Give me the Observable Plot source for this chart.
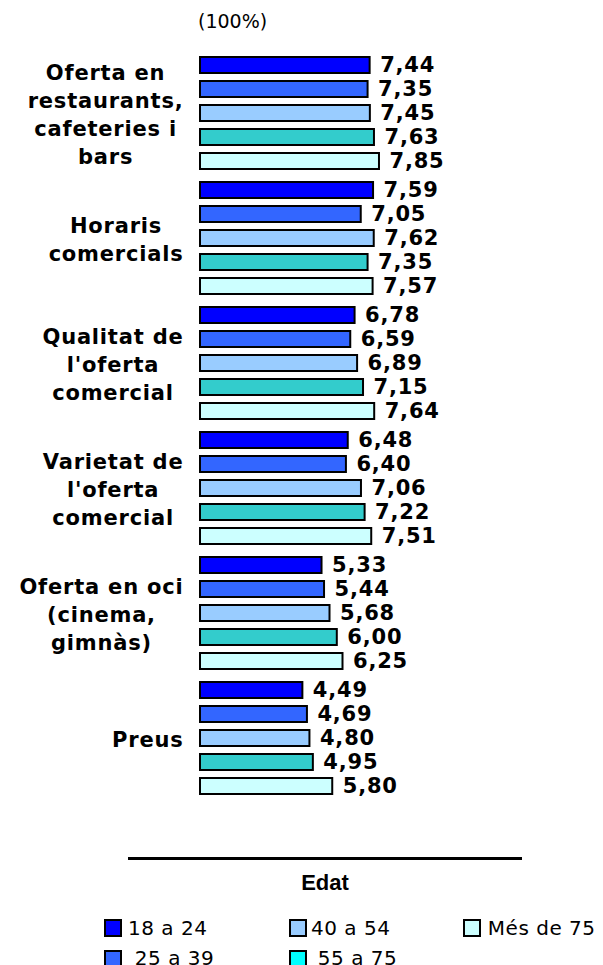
<!DOCTYPE html>
<html>
<head>
<meta charset="utf-8">
<script src="https://cdn.jsdelivr.net/npm/d3@7"></script>
<script src="https://cdn.jsdelivr.net/npm/@observablehq/plot@0.6"></script>
<style>
  html, body { margin: 0; padding: 0; background: #fff; }
  #wrap { position: relative; width: 603px; height: 965px; overflow: hidden; background: #fff; }
  #unit { position: absolute; left: 198px; top: 10px; font: 19px "DejaVu Sans", Verdana, sans-serif; line-height: 22px; color: #000; }
  #chart { position: absolute; left: 0; top: 40px; }
  #rule { position: absolute; left: 128px; top: 857px; width: 394px; height: 3px; background: #000; }
  #edat { position: absolute; left: 0; width: 650px; top: 870px; text-align: center; font: bold 22px "Liberation Sans", Arial, sans-serif; line-height: 25px; }
  .sw { position: absolute; width: 14px; height: 14px; border: 2px solid #000; }
  .lt { position: absolute; font: 20px "DejaVu Sans", Verdana, sans-serif; line-height: 24px; letter-spacing: 0.5px; white-space: pre; color: #000; }
</style>
</head>
<body>
<div id="wrap">
  <div id="unit">(100%)</div>
  <div id="chart"></div>
  <div id="rule"></div>
  <div id="edat">Edat</div>
</div>
<script>
// ---- data ----
const categories = [
  "Oferta en\nrestaurants,\ncafeteries i\nbars",
  "Horaris\ncomercials",
  "Qualitat de\nl'oferta\ncomercial",
  "Varietat de\nl'oferta\ncomercial",
  "Oferta en oci\n(cinema,\ngimnàs)",
  "Preus"
];
const series = ["18 a 24", "25 a 39", "40 a 54", "55 a 75", "Més de 75"];
const v18a24 = [7.44, 7.59, 6.78, 6.48, 5.33, 4.49];
const v25a39 = [7.35, 7.05, 6.59, 6.40, 5.44, 4.69];
const v40a54 = [7.45, 7.62, 6.89, 7.06, 5.68, 4.80];
const v55a75 = [7.63, 7.35, 7.15, 7.22, 6.00, 4.95];
const vMes75 = [7.85, 7.57, 7.64, 7.51, 6.25, 5.80];
const barColors = ["#0000FF", "#3366FF", "#99CCFF", "#33CCCC", "#CCFFFF"];
const legendLabels = ["18 a 24", " 25 a 39", "40 a 54", " 55 a 75", " Més de 75"];
const legendColors = ["#0000FF", "#3366FF", "#99CCFF", "#00FFFF", "#CCFFFF"];

// ---- build table ----
const seriesValues = [v18a24, v25a39, v40a54, v55a75, vMes75];
const rows = [];
categories.forEach((c, i) => {
  series.forEach((s, j) => rows.push({category: c, series: s, value: seriesValues[j][i]}));
});
const fmt = v => v.toFixed(2).replace(".", ",");

// measure label widths for centred multi-line blocks right-aligned to the axis
const FS = 21;
const LS = 0.8;
const ctx = document.createElement("canvas").getContext("2d");
ctx.font = "bold " + FS + "px 'DejaVu Sans'";
const blockWidth = label => d3.max(label.split("\n"), l => ctx.measureText(l).width + l.length * LS);

const labelMarks = categories.map(c => Plot.text([c], {
  fy: d => d,
  text: d => d,
  frameAnchor: "left",
  textAnchor: "middle",
  lineAnchor: "middle",
  lineHeight: 28 / FS,
  dx: -(17 + blockWidth(c) / 2),
  dy: -1,
  fontWeight: "bold",
  fontSize: FS,
  fill: "#000"
}));

const chart = Plot.plot({
  width: 603,
  height: 770,
  marginLeft: 200,
  marginRight: 175,
  marginTop: 11,
  marginBottom: 9,
  style: {fontFamily: "'DejaVu Sans', Verdana, sans-serif", background: "white", letterSpacing: LS + "px", overflow: "visible"},
  x: {domain: [0, 10], axis: null},
  y: {domain: series, paddingInner: 0.32, paddingOuter: 0.232, axis: null},
  fy: {domain: categories, padding: 0, axis: null},
  color: {domain: series, range: barColors},
  marks: [
    Plot.barX(rows, {x: "value", y: "series", fy: "category", fill: "series", stroke: "#000", strokeWidth: 2}),
    Plot.text(rows, {x: "value", y: "series", fy: "category", text: d => fmt(d.value), textAnchor: "start", dx: 10, dy: 0, fontWeight: "bold", fontSize: FS, fill: "#000"}),
    ...labelMarks
  ]
});
document.getElementById("chart").appendChild(chart);

// ---- legend ----
const wrap = document.getElementById("wrap");
const legendPos = [
  {sx: 104, tx: 128, row: 0},
  {sx: 104, tx: 128, row: 1},
  {sx: 289, tx: 311, row: 0},
  {sx: 289, tx: 311, row: 1},
  {sx: 463, tx: 481, row: 0}
];
legendLabels.forEach((lab, i) => {
  const p = legendPos[i];
  const sw = document.createElement("div");
  sw.className = "sw";
  sw.style.left = p.sx + "px";
  sw.style.top = (919 + p.row * 31) + "px";
  sw.style.background = legendColors[i];
  wrap.appendChild(sw);
  const t = document.createElement("div");
  t.className = "lt";
  t.style.left = p.tx + "px";
  t.style.top = (916 + p.row * 30) + "px";
  t.textContent = lab;
  wrap.appendChild(t);
});
</script>
</body>
</html>
